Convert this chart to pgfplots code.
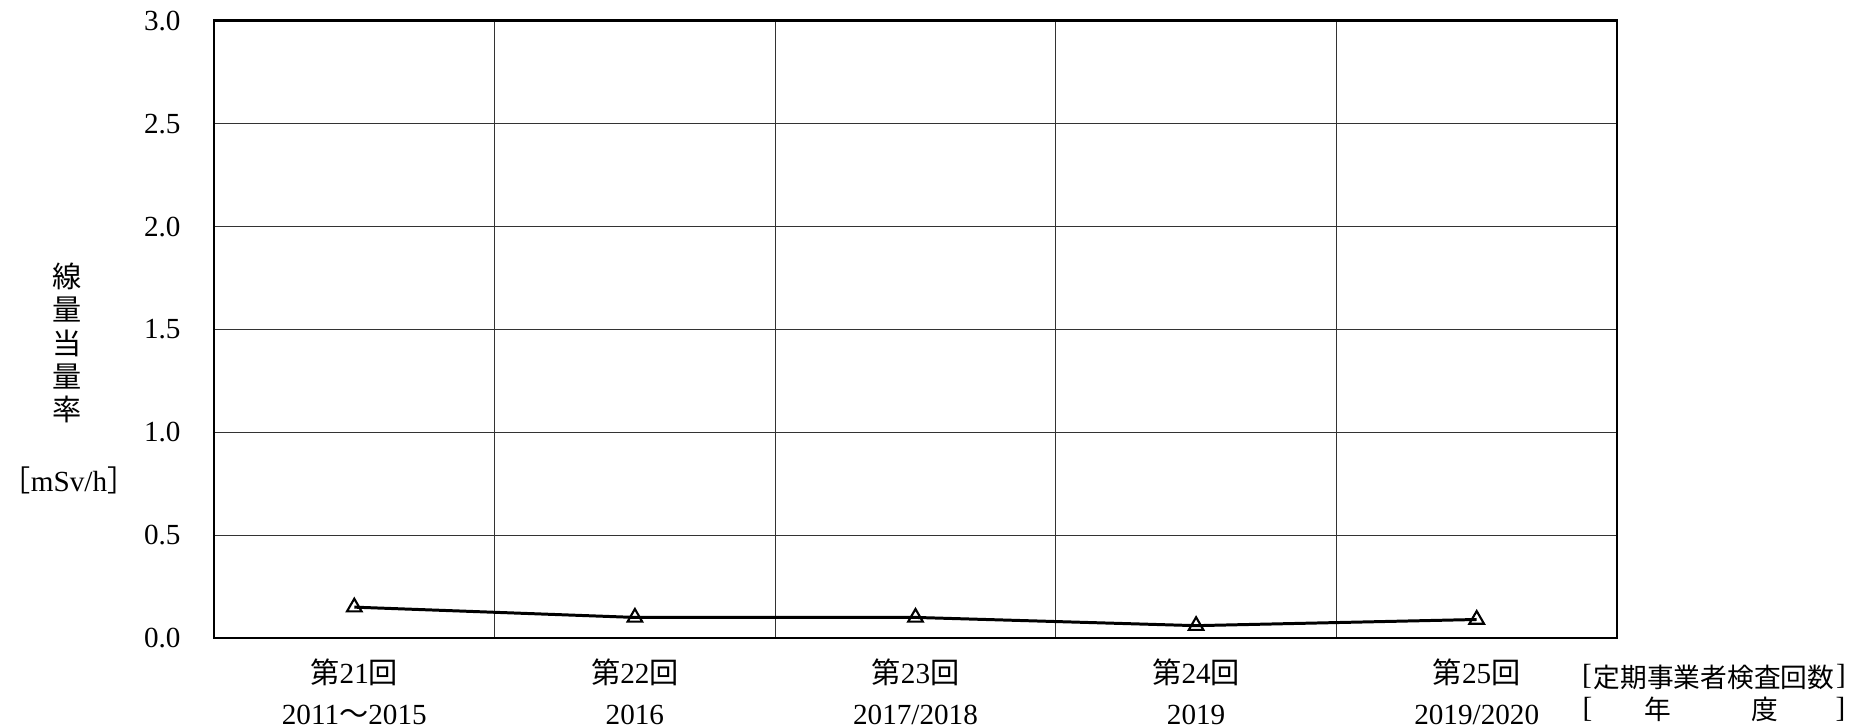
\documentclass[border=0pt]{standalone}
\usepackage{pgfplots}
\pgfplotsset{compat=1.18}
\usetikzlibrary{calc}
\usepackage{fontspec}
\setmainfont{Liberation Serif}
\newfontfamily\cjk{Noto Sans CJK JP}
\newcommand\J[1]{{\cjk #1}}
\newcommand\Bk[1]{{\rmfamily\fontsize{8.3}{9}\selectfont\raisebox{0.6pt}{#1}}}

\begin{document}
\begin{tikzpicture}
% page extent: axis box is 14.03cm x 6.17cm with its lower left corner at the origin
\useasboundingbox (-2.14cm,-0.90cm) rectangle (16.37cm,6.38cm);
\begin{axis}[
    name=ax,
    at={(0,0)}, anchor=south west,
    scale only axis,
    width=14.03cm, height=6.17cm,
    xmin=0.5, xmax=5.5, ymin=0, ymax=3,
    xtick={1,2,3,4,5},
    xticklabels={
        {\J{第}21\J{回}\\2011\J{～}2015},
        {\J{第}22\J{回}\\2016},
        {\J{第}23\J{回}\\2017/2018},
        {\J{第}24\J{回}\\2019},
        {\J{第}25\J{回}\\2019/2020}},
    minor xtick={1.5,2.5,3.5,4.5},
    ytick={0,0.5,1,1.5,2,2.5,3},
    xminorgrids, ymajorgrids,
    major tick length=0, minor tick length=0,
    grid style={black!80, line width=0.35pt},
    minor grid style={black!80, line width=0.35pt},
    axis line style={line width=0.85pt},
    /pgf/number format/assume math mode=true,
    yticklabel style={/pgf/number format/.cd, fixed, fixed zerofill, precision=1,
        /tikz/.cd, font=\fontsize{8.3}{10}\selectfont, xshift=-2.1mm},
    xticklabel style={align=center, font=\fontsize{8.3}{11.5}\selectfont,
        inner sep=0pt, yshift=-2.05mm},
]
\addplot[black, line width=0.85pt, mark=triangle, mark size=2.4pt,
    mark options={fill=white, line width=0.6pt, solid}]
    coordinates {(1,0.15) (2,0.10) (3,0.10) (4,0.06) (5,0.09)};
\end{axis}

% y label
\node[align=center, inner sep=0pt, font=\cjk\fontsize{8.3}{9.5}\selectfont]
    at ($(ax.south west)+(-1.47cm,2.95cm)$) {線\\量\\当\\量\\率};
\node[inner sep=0pt, font=\fontsize{8.3}{10}\selectfont]
    at ($(ax.south west)+(-1.45cm,1.58cm)$) {\J{［}mSv/h\J{］}};

% right-hand labels
\begin{scope}[every node/.style={inner sep=0pt, font=\cjk\fontsize{7.6}{9}\selectfont}]
\node at ($(ax.south east)+(0.97cm,-0.39cm)$)
    {\Bk{[}\hspace{0.02cm}定期事業者検査回数\hspace{0.02cm}\Bk{]}};
\node[anchor=west] at ($(ax.south east)+(-0.35cm,-0.71cm)$) {\Bk{[}};
\node at ($(ax.south east)+(0.41cm,-0.71cm)$) {年};
\node at ($(ax.south east)+(1.48cm,-0.71cm)$) {度};
\node[anchor=east] at ($(ax.south east)+(2.29cm,-0.71cm)$) {\Bk{]}};
\end{scope}
\end{tikzpicture}
\end{document}
